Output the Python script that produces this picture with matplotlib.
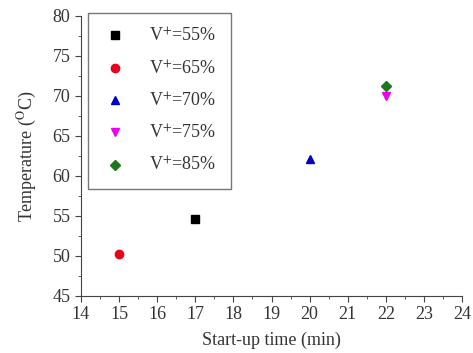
"""
start-up time vs temperature for different V+ values
"""

import matplotlib.pyplot as plt
from matplotlib.ticker import MultipleLocator

plt.rcParams['font.family'] = ['Liberation Serif', 'DejaVu Serif']
plt.rcParams['mathtext.fontset'] = 'stix'

# data
# ----------
labels = ["V$^{+}$=55%", "V$^{+}$=65%", "V$^{+}$=70%", "V$^{+}$=75%", "V$^{+}$=85%"]
startup_time = [17, 15, 20, 22, 22]
temperature = [54.6, 50.2, 62.1, 70.0, 71.2]
markers = ["s", "o", "^", "v", "D"]
colors = ["black", "#e8001c", "#0000cc", "#ee00ee", "#1a7a1a"]

fig, ax = plt.subplots(figsize=(4.73, 3.53), dpi=100)
fig.subplots_adjust(left=0.171, right=0.977, top=0.955, bottom=0.162)

for x, y, m, c, lab in zip(startup_time, temperature, markers, colors, labels):
    ax.plot(x, y, linestyle="none", marker=m, color=c, markersize=6 if m != "D" else 5, label=lab)

ax.set_xlim(14, 24)
ax.set_ylim(45, 80)
ax.xaxis.set_major_locator(MultipleLocator(1))
ax.xaxis.set_minor_locator(MultipleLocator(0.5))
ax.yaxis.set_major_locator(MultipleLocator(5))
ax.yaxis.set_minor_locator(MultipleLocator(2.5))
ax.tick_params(which="major", direction="out", length=4, labelsize=13, color="#444444", labelcolor="#333333")
ax.tick_params(which="minor", direction="out", length=2.5, color="#444444")

for side in ["top", "right"]:
    ax.spines[side].set_visible(False)
for side in ["left", "bottom"]:
    ax.spines[side].set_color("#444444")

ax.set_xlabel("Start-up time (min)", fontsize=13, color="#333333", labelpad=6)
ax.set_ylabel("Temperature ($^{\\rm O}$C)", fontsize=13, color="#333333", labelpad=10)

leg = ax.legend(loc="upper left", bbox_to_anchor=(0.018, 1.011), borderaxespad=0, fontsize=13,
                frameon=True, fancybox=False, edgecolor="#555555",
                labelspacing=0.76, handletextpad=1.2, borderpad=0.8, handlelength=1.4)
leg.get_frame().set_linewidth(1.0)
for t in leg.get_texts():
    t.set_color("#333333")

plt.savefig("out.png", dpi=100)
